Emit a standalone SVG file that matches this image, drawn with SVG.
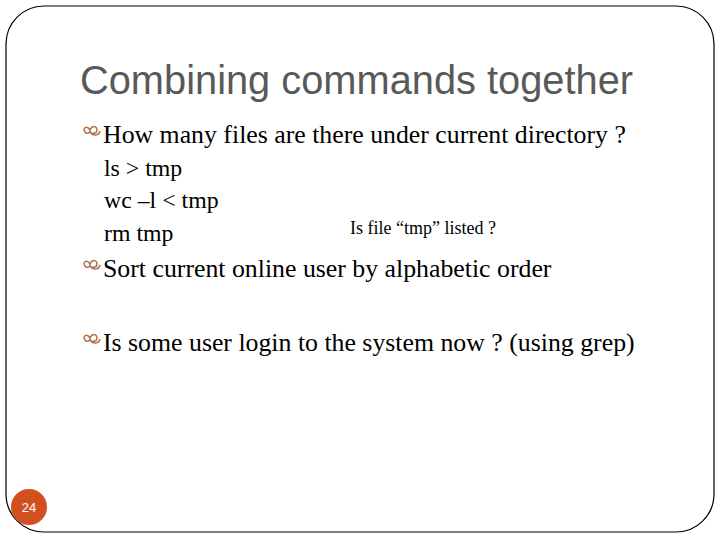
<svg xmlns="http://www.w3.org/2000/svg" width="720" height="540" viewBox="0 0 720 540">
<defs><style>
.t{font-family:"Liberation Serif",serif;font-size:25.8px;fill:#000}
.s{font-family:"Liberation Serif",serif;font-size:23.8px;fill:#000}
.b{fill:none;stroke:#b0714f;stroke-width:1.5}
</style>
<g id="bul"><path class="b" d="M0,-2 c-3,-5 -8,-2 -5,2 c2,3 6,0 5,-2 c2,-5 7,-4 7,0 c0,4 -6,4 -7,2 c3,4 9,4 10,-1"/></g>
</defs>
<rect width="720" height="540" fill="#fff"/>
<rect x="6" y="6" width="708" height="526" rx="38" fill="none" stroke="#000" stroke-width="1.2"/>
<text x="80" y="94" style="font-family:'Liberation Sans',sans-serif;font-size:39.8px;fill:#595959">Combining commands together</text>
<use href="#bul" x="90" y="132"/>
<text class="t" x="103" y="143">How many files are there under current directory ?</text>
<text class="s" x="104" y="176">ls &gt; tmp</text>
<text class="s" x="104" y="208">wc –l &lt; tmp</text>
<text class="s" x="104" y="241">rm tmp</text>
<text x="350" y="234" style="font-family:'Liberation Serif',serif;font-size:18px">Is file “tmp” listed ?</text>
<use href="#bul" x="90" y="266"/>
<text class="t" x="103" y="277">Sort current online user by alphabetic order</text>
<use href="#bul" x="90" y="340"/>
<text class="t" x="103" y="351">Is some user login to the system now ? (using grep)</text>
<g id="page"><circle cx="29" cy="507" r="18" fill="#d2501f"/>
<text x="29" y="512" text-anchor="middle" style="font-family:'Liberation Sans',sans-serif;font-size:13px;fill:#fff">24</text></g>
</svg>
